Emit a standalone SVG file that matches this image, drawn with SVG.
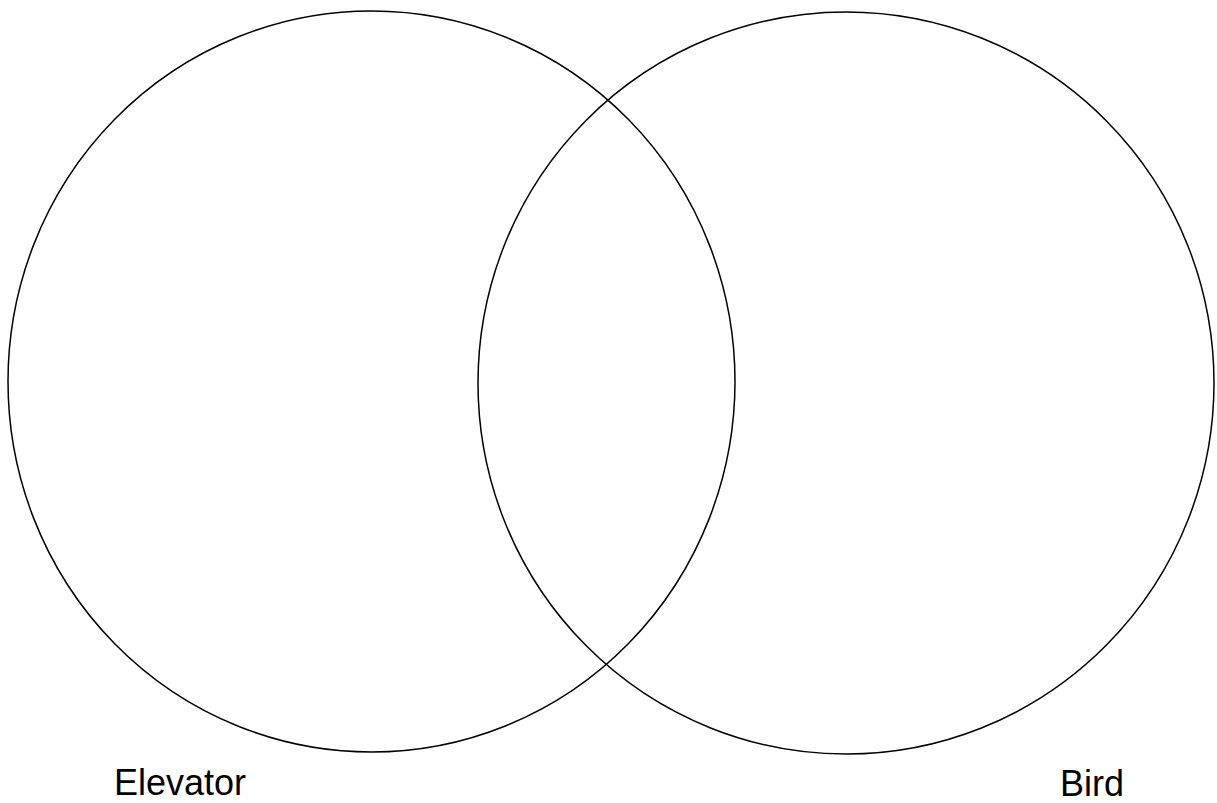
<svg xmlns="http://www.w3.org/2000/svg" width="1217" height="803" viewBox="0 0 1217 803">
<style>
.set{fill:none;stroke:#000;stroke-width:1.5}
.lbl{font-family:"Liberation Sans",Arial,sans-serif;font-size:36px;fill:#000}
</style>
<rect width="1217" height="803" fill="#fff"/>
<g id="elevator">
<ellipse class="set" cx="371.5" cy="381.5" rx="363.5" ry="370.5"/>
<text class="lbl" x="114" y="795">Elevator</text>
</g>
<g id="bird">
<ellipse class="set" cx="846" cy="383" rx="368" ry="371"/>
<text class="lbl" x="1060" y="796">Bird</text>
</g>
<g id="connectors"></g>
</svg>
